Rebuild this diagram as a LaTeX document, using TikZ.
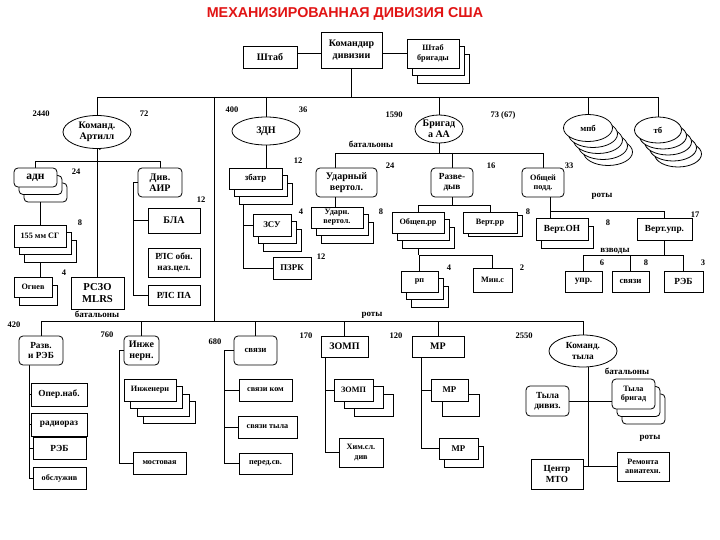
\documentclass[tikz,border=0pt]{standalone}
\usepackage{fontspec}
\setmainfont{Liberation Serif}
\newfontfamily\titlefont{Liberation Sans}
\usetikzlibrary{shapes.geometric,shadows}
\pgfdeclarelayer{background}
\pgfsetlayers{background,main}
\definecolor{titlered}{RGB}{225,20,20}
\newcommand\fsz[1]{\fontsize{#1pt}{1.12\dimexpr#1pt\relax}\selectfont}
\newcommand\Bx[7]{\node[#6,minimum width={(#4-#2)*1pt},minimum height={(#5-#3)*1pt}] (#1) at ({(#2+#4)/2},{(#3+#5)/2}) {#7};}
\begin{document}
\begin{tikzpicture}[x=1pt,y=-1pt,
  box/.style={draw,fill=white,line width=0.8pt,inner sep=0pt,outer sep=0pt,align=center,font=\bfseries\fsz{10}},
  rbox/.style={box,rounded corners=4pt},
  ell/.style={box,ellipse},
  md/.style={font=\bfseries\fsz{9.3}},
  sm/.style={font=\bfseries\fsz{8.8}},
  tiny/.style={font=\bfseries\fsz{8.2}},
  big/.style={font=\bfseries\fsz{11.5}},
  sh1/.style={copy shadow={shadow xshift=5pt,shadow yshift=-8pt}},
  sh1s/.style={copy shadow={shadow xshift=5pt,shadow yshift=-3pt}},
  sh1m/.style={copy shadow={shadow xshift=11pt,shadow yshift=-15pt}},
  sh2/.style={copy shadow={shadow xshift=10pt,shadow yshift=-15pt},copy shadow={shadow xshift=5pt,shadow yshift=-7.5pt}},
  sh2z/.style={copy shadow={shadow xshift=20pt,shadow yshift=-15pt},copy shadow={shadow xshift=10pt,shadow yshift=-7.5pt}},
  sh3/.style={copy shadow={shadow xshift=19.5pt,shadow yshift=-22.5pt},copy shadow={shadow xshift=13pt,shadow yshift=-15pt},copy shadow={shadow xshift=6.5pt,shadow yshift=-7.5pt}},
  sh4/.style={copy shadow={shadow xshift=20pt,shadow yshift=-24pt},copy shadow={shadow xshift=15pt,shadow yshift=-18pt},copy shadow={shadow xshift=10pt,shadow yshift=-12pt},copy shadow={shadow xshift=5pt,shadow yshift=-6pt}},
  num/.style={inner sep=0pt,font=\bfseries\fsz{8.5}},
  wrd/.style={inner sep=0pt,font=\bfseries\fsz{9}},
  ln/.style={line width=0.8pt}]
\useasboundingbox (0,0) rectangle (720,540);
% title
\node[inner sep=0pt,font=\titlefont\bfseries\fsz{14.3},text=titlered] (title) at (345,14) {МЕХАНИЗИРОВАННАЯ ДИВИЗИЯ США};
% top
\Bx{shtab}{243}{46}{297}{68}{box}{Штаб}
\Bx{cmd}{321}{32}{382}{68}{box}{Командир\\дивизии}
\Bx{shbr}{407}{39}{459}{68}{box,tiny,sh2}{Штаб\\бригады}
% artillery
\node[ell,minimum width=68pt,minimum height=33pt] (art) at (97,132) {Команд.\\Артилл};
\node[num] (artdot) at (100,150) {.};
\Bx{adn}{14}{168}{57}{187}{rbox,big,sh2}{адн}
\Bx{air}{138}{168}{182}{197}{rbox}{Див.\\АИР}
\Bx{g155}{14}{225}{66}{247}{box,tiny,sh2}{155 мм СГ}
\Bx{ogn}{14}{277}{52}{297}{box,tiny,sh1}{Огнев}
\Bx{rszo}{71}{277}{124}{309}{box,font=\bfseries\fsz{10.6}}{РСЗО\\MLRS}
\Bx{bla}{148}{208}{200}{233}{box}{БЛА}
\Bx{rlso}{148}{248}{200}{277}{box,md}{РЛС обн.\\наз.цел.}
\Bx{rlspa}{148}{285}{200}{305}{box,md}{РЛС ПА}
% air defence
\node[ell,minimum width=68pt,minimum height=28pt] (zdn) at (266,131) {ЗДН};
\Bx{zbatr}{229}{168}{282}{189}{box,sm,sh2}{збатр}
\Bx{zsu}{253}{214}{291}{236}{box,sm,sh2}{ЗСУ}
\Bx{pzrk}{273}{257}{311}{279}{box,sm}{ПЗРК}
% aviation brigade
\node[ell,minimum width=48pt,minimum height=28pt] (brig) at (439,129) {Бригад\\а АА};
\Bx{udar}{316}{168}{377}{197}{rbox}{Ударный\\вертол.}
\Bx{udarn}{311}{207}{363}{228}{box,tiny,sh2}{Ударн.\\вертол.}
\Bx{razv}{431}{168}{473}{197}{rbox,md}{Разве-\\дыв}
\Bx{obsh}{522}{168}{564}{197}{rbox,tiny}{Общей\\подд.}
\Bx{obrr}{392}{212}{444}{233}{box,tiny,sh2}{Общеп.рр}
\Bx{vrr}{463}{212}{517}{233}{box,tiny,sh1s}{Верт.рр}
\Bx{voh}{536}{218}{588}{240}{box,md,sh1}{Верт.ОН}
\Bx{vupr}{637}{218}{692}{240}{box,md}{Верт.упр.}
\Bx{rp}{401}{271}{438}{292}{box,tiny,sh2}{рп}
\Bx{minc}{473}{268}{512}{292}{box,tiny}{Мин.с}
\Bx{upr}{565}{271}{602}{292}{box,md}{упр.}
\Bx{svz}{612}{271}{649}{292}{box,sm}{связи}
\Bx{reb}{664}{271}{703}{292}{box,md}{РЭБ}
\node[ell,sm,sh4,minimum width=49pt,minimum height=27pt] (mpb) at (588,128) {мпб};
\node[ell,sm,sh4,minimum width=47pt,minimum height=26pt] (tb) at (658,130) {тб};
% bottom row
\Bx{rr}{19}{336}{63}{365}{rbox,md}{Разв.\\и РЭБ}
\Bx{oper}{31}{383}{87}{406}{box,md}{Опер.наб.}
\Bx{radio}{31}{413}{87}{436}{box,md}{радиораз}
\Bx{reb2}{33}{437}{86}{459}{box,md}{РЭБ}
\Bx{obsl}{33}{467}{86}{489}{box,tiny}{обслужив}
\Bx{inzh}{124}{336}{159}{365}{rbox}{Инже\\нерн.}
\Bx{inzhr}{124}{379}{176}{401}{box,tiny,sh3}{Инженерн}
\Bx{most}{133}{452}{186}{474}{box,tiny}{мостовая}
\Bx{svb}{234}{336}{277}{365}{rbox,sm}{связи}
\Bx{svk}{239}{379}{292}{401}{box,tiny}{связи ком}
\Bx{svt}{238}{416}{297}{438}{box,tiny}{связи тыла}
\Bx{pered}{239}{453}{292}{474}{box,tiny}{перед.св.}
\Bx{zomp}{321}{336}{368}{357}{box}{ЗОМП}
\Bx{zomps}{334}{379}{373}{401}{box,tiny,sh2z}{ЗОМП}
\Bx{him}{339}{438}{383}{467}{box,tiny}{Хим.сл.\\див}
\Bx{mr}{412}{336}{464}{357}{box}{МР}
\Bx{mrs}{431}{379}{468}{401}{box,sm,sh1m}{МР}
\Bx{mrl}{439}{438}{478}{459}{box,sm,sh1}{МР}
\node[ell,md,minimum width=68pt,minimum height=32pt] (tyl) at (583,351) {Команд.\\тыла};
\Bx{tyld}{526}{386}{569}{416}{rbox,md}{Тыла\\дивиз.}
\Bx{tylbr}{612}{379}{655}{409}{rbox,tiny,sh2}{Тыла\\бригад}
\Bx{mto}{531}{459}{583}{489}{box,md}{Центр\\МТО}
\Bx{rem}{617}{452}{669}{481}{box,tiny}{Ремонта\\авиатехн.}
% labels
\node[num] (l1) at (41,114) {2440};
\node[num] (l2) at (144,114) {72};
\node[num] (l3) at (76,172) {24};
\node[num] (l4) at (201,200) {12};
\node[num] (l5) at (80,223) {8};
\node[num] (l6) at (64,273) {4};
\node[wrd] (l7) at (97,314) {батальоны};
\node[num] (l8) at (232,110) {400};
\node[num] (l9) at (303,110) {36};
\node[num] (l10) at (298,161) {12};
\node[num] (l11) at (301,212) {4};
\node[num] (l12) at (321,257) {12};
\node[num] (l13) at (394,115) {1590};
\node[num] (l14) at (503,115) {73 (67)};
\node[wrd] (l15) at (371,144) {батальоны};
\node[num] (l16) at (390,166) {24};
\node[num] (l17) at (381,212) {8};
\node[num] (l18) at (491,166) {16};
\node[num] (l19) at (569,166) {33};
\node[wrd] (l20) at (602,196) {роты};
\node[num] (l21) at (528,212) {8};
\node[num] (l22) at (608,223) {8};
\node[num] (l23) at (695,215) {17};
\node[wrd] (l24) at (615,251) {взводы};
\node[num] (l25) at (602,263) {6};
\node[num] (l26) at (646,263) {8};
\node[num] (l27) at (703,263) {3};
\node[num] (l28) at (449,268) {4};
\node[num] (l29) at (522,268) {2};
\node[wrd] (l30) at (372,315) {роты};
\node[num] (l31) at (14,325) {420};
\node[num] (l32) at (107,335) {760};
\node[num] (l33) at (215,342) {680};
\node[num] (l34) at (306,336) {170};
\node[num] (l35) at (396,336) {120};
\node[num] (l36) at (524,336) {2550};
\node[wrd] (l37) at (627,371) {батальоны};
\node[wrd] (l38) at (650,438) {роты};
% connectors
\begin{pgfonlayer}{background}
\fill[white] (0,0) rectangle (720,540);
\coordinate (y53) at (0,53);
\draw[ln] (shtab.east |- y53) -- (cmd.west |- y53);
\draw[ln] (cmd.east |- y53) -- (shbr.west |- y53);
\coordinate (b1L) at (art.north |- 0,97);
\coordinate (b1R) at (tb.north |- 0,97);
\draw[ln] (b1L) -- (b1R);
\draw[ln] (cmd.south) -- (cmd.south |- b1L);
\draw[ln] (b1L) -- (art.north);
\draw[ln] (zdn.north |- b1L) -- (zdn.north);
\draw[ln] (brig.north |- b1L) -- (brig.north);
\draw[ln] (mpb.north |- b1L) -- (mpb.north);
\draw[ln] (b1R) -- (tb.north);
\coordinate (vt) at (214,97);
\coordinate (vb) at (214,321);
\draw[ln] (vt) -- (vb);
\coordinate (b2L) at (rr.north |- vb);
\coordinate (b2R) at (tyl.north |- vb);
\draw[ln] (b2L) -- (b2R);
\draw[ln] (b2L) -- (rr.north);
\draw[ln] (inzh.north |- vb) -- (inzh.north);
\draw[ln] (svb.north |- vb) -- (svb.north);
\draw[ln] (zomp.north |- vb) -- (zomp.north);
\draw[ln] (mr.north |- vb) -- (mr.north);
\draw[ln] (b2R) -- (tyl.north);
% artillery
\draw[ln] (art.south) -- (art.south |- rszo.north);
\coordinate (a161) at (0,161);
\draw[ln] (adn.north) -- (adn.north |- a161) -- (air.north |- a161) -- (air.north);
\draw[ln] (g155.north |- adn.south) -- (g155.north);
\draw[ln] (g155.south) -- (g155.south |- ogn.north);
\coordinate (ax) at (133,0);
\draw[ln] (air.west) -- (air.west -| ax) |- (rlspa.west);
\draw[ln] (ax |- bla.west) -- (bla.west);
% air defence
\draw[ln] (zdn.south) -- (zdn.south |- zbatr.north);
\coordinate (zx) at (243,0);
\draw[ln] (zbatr.south -| zx) |- (pzrk.west);
\draw[ln] (zx |- zsu.west) -- (zsu.west);
% aviation brigade
\coordinate (c153) at (0,153);
\coordinate (ux) at (335,0);
\draw[ln] (brig.south) -- (brig.south |- c153);
\draw[ln] (ux |- udar.north) -- (ux |- c153) -- (obsh.north |- c153) -- (obsh.north);
\draw[ln] (razv.north |- c153) -- (razv.north);
\draw[ln] (ux |- udar.south) -- (ux |- udarn.north);
\coordinate (c205) at (0,205);
\draw[ln] (razv.south) -- (razv.south |- c205);
\draw[ln] (obrr.north) -- (obrr.north |- c205) -- (vrr.north |- c205) -- (vrr.north);
\coordinate (c211) at (0,211);
\coordinate (ox) at (550,0);
\draw[ln] (ox |- obsh.south) -- (ox |- voh.north);
\draw[ln] (ox |- c211) -- (vupr.north |- c211) -- (vupr.north);
\coordinate (c255) at (0,255);
\draw[ln] (vupr.south) -- (vupr.south |- c255);
\draw[ln] (upr.north) -- (upr.north |- c255) -- (reb.north |- c255) -- (reb.north);
\draw[ln] (svz.north |- c255) -- (svz.north);
\draw[ln] (obrr.south) -- (obrr.south |- c255);
\draw[ln] (rp.north) -- (rp.north |- c255) -- (minc.north |- c255) -- (minc.north);
% bottom subtrees
\coordinate (rx) at (29,0);
\draw[ln] (rx |- rr.south) |- (obsl.west);
\draw[ln] (rx |- oper.west) -- (oper.west);
\draw[ln] (rx |- radio.west) -- (radio.west);
\draw[ln] (rx |- reb2.west) -- (reb2.west);
\coordinate (ix) at (119,0);
\draw[ln] (inzh.west) -- (inzh.west -| ix) |- (most.west);
\coordinate (sx) at (224,0);
\draw[ln] (svb.west) -- (svb.west -| sx) |- (pered.west);
\draw[ln] (sx |- svk.west) -- (svk.west);
\draw[ln] (sx |- svt.west) -- (svt.west);
\coordinate (zox) at (325,0);
\draw[ln] (zox |- zomp.south) |- (him.west);
\draw[ln] (zox |- zomps.west) -- (zomps.west);
\coordinate (mx) at (421,0);
\draw[ln] (mx |- mr.south) |- (mrl.west);
\draw[ln] (mx |- mrs.west) -- (mrs.west);
\coordinate (tx) at (588,0);
\draw[ln] (tx |- tyl.south) -- (tx |- rem.west);
\draw[ln] (tyld.east) -- (tylbr.west |- tyld.east);
\draw[ln] (mto.east |- rem.west) -- (rem.west);
\end{pgfonlayer}
\end{tikzpicture}
\end{document}
